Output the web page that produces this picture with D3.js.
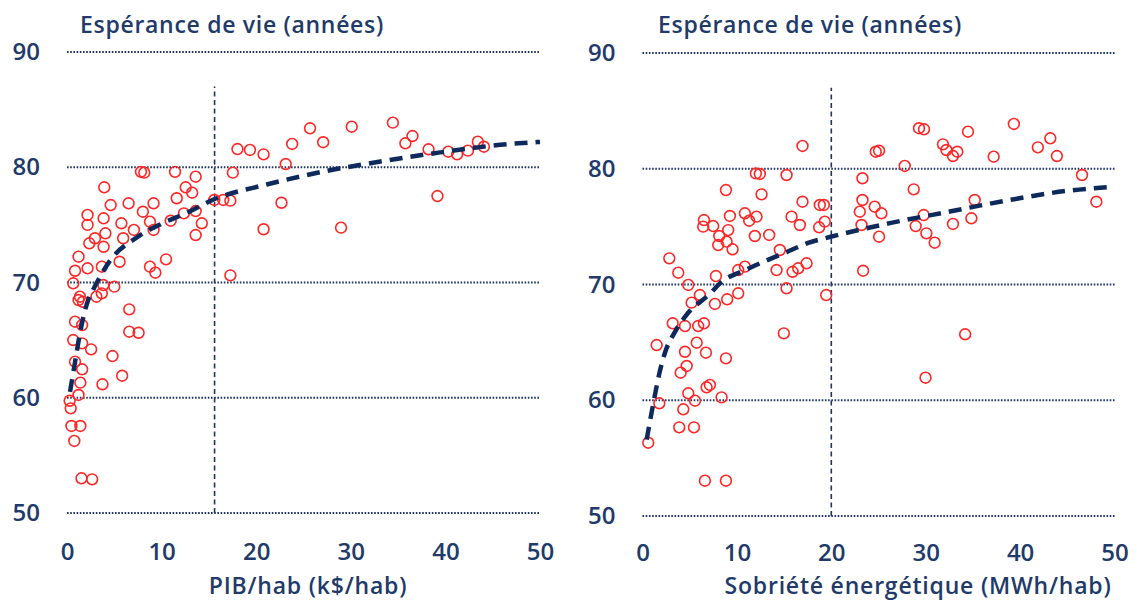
<!DOCTYPE html>
<html lang="fr">
<head>
<meta charset="UTF-8">
<title>Espérance de vie</title>
<script src="https://d3js.org/d3.v7.min.js"></script>
<style>
  body { margin: 0; background: #fff; }
  svg { display: block; font-family: "Open Sans", sans-serif; }
  .lbl { fill: #213a6a; font-weight: 600; }
</style>
</head>
<body>
<svg id="chart" width="1147" height="600"></svg>
<script>
// ticks
const yTicks = [50, 60, 70, 80, 90];
const xTicks = [0, 10, 20, 30, 40, 50];

// left panel : PIB/hab
const gdpX = [25.69, 30.10, 34.45, 36.52, 35.77, 23.80, 27.08, 18.02, 19.34, 20.78, 23.12, 38.22, 40.30, 41.24, 42.38, 43.43, 44.07,
  17.53, 39.16, 22.67, 20.78, 28.97, 17.27, 15.57, 16.51, 17.27, 13.60, 11.42, 12.55, 13.23, 11.60, 13.60, 14.25, 13.60, 12.36,
  10.96, 9.15, 9.15, 8.02, 6.51, 4.62, 3.94, 2.17, 2.17, 3.87, 5.75, 7.07, 5.94, 4.06, 3.87, 2.36, 1.22, 0.85, 2.17, 3.68, 5.56,
  8.77, 9.34, 10.47, 0.66, 3.68, 5.00, 3.11, 1.22, 1.68, 6.58, 0.85, 1.60, 6.58, 7.57, 0.66, 1.60, 2.55, 4.81, 0.85, 1.60, 5.83,
  3.75, 1.41, 1.22, 0.28, 0.39, 0.47, 1.41, 0.77, 1.53, 2.66, 7.82, 8.17, 8.77, 2.96, 3.84, 1.37];
const gdpY = [83.38, 83.52, 83.87, 82.71, 82.08, 82.02, 82.17, 81.58, 81.50, 81.12, 80.28, 81.56, 81.35, 81.12, 81.44, 82.22, 81.78,
  79.53, 77.50, 76.92, 74.62, 74.76, 70.62, 77.16, 77.16, 77.10, 79.18, 79.60, 78.26, 77.79, 77.31, 76.20, 75.14, 74.12, 76.00,
  75.36, 76.87, 74.56, 76.14, 76.87, 76.72, 78.26, 75.86, 75.00, 75.57, 75.14, 74.56, 73.84, 74.27, 73.10, 73.40, 72.24, 71.02,
  71.23, 71.37, 71.80, 71.37, 70.85, 72.01, 69.93, 69.06, 69.64, 68.77, 68.48, 68.33, 67.67, 66.60, 66.31, 65.73, 65.64, 65.01,
  64.72, 64.20, 63.62, 63.13, 62.47, 61.91, 61.17, 61.31, 60.24, 59.74, 59.08, 57.55, 57.55, 56.25, 53.01, 52.92, 79.60, 79.53,
  75.28, 73.84, 69.78, 68.77];
const gdpTrendX = [0.32, 0.85, 1.37, 2.25, 2.78, 4.55, 7.54, 10.0, 12.8, 15.5, 21.1, 28.2, 31.7, 38.7, 46.5, 50];
const gdpTrendY = [60.5, 63.1, 65.6, 68.5, 69.4, 71.9, 74.0, 75.1, 76.1, 77.2, 78.5, 79.8, 80.3, 81.2, 82.0, 82.2];
const gdpRef = 15.6;

// right panel : énergie/hab
const energyX = [16.95, 12.01, 12.43, 15.26, 8.84, 12.61, 16.95, 6.51, 6.43, 7.49, 9.26, 10.85, 11.30, 12.08, 15.79, 16.67, 9.08,
  8.13, 8.02, 8.91, 9.54, 11.90, 13.42, 14.55, 2.84, 3.79, 4.85, 7.78, 10.14, 10.85, 14.20, 15.90, 16.49, 15.26, 6.08, 10.14,
  5.20, 7.67, 8.97, 3.20, 4.50, 5.90, 6.51, 5.74, 4.50, 6.72, 1.50, 8.84, 4.68, 4.04, 14.97, 7.14, 6.79, 8.38, 4.85, 5.56, 1.78,
  4.32, 3.89, 5.45, 0.61, 6.61, 8.84, 29.98, 34.18, 19.46, 29.29, 29.82, 39.34, 34.48, 43.20, 41.88, 43.90, 37.20, 31.83, 32.19,
  33.35, 32.89, 24.71, 25.06, 27.78, 23.30, 28.73, 23.30, 24.60, 25.31, 23.02, 18.78, 19.21, 35.19, 29.79, 19.31, 18.71, 23.20,
  28.94, 32.89, 34.84, 30.07, 30.95, 25.06, 23.37, 17.38, 46.56, 48.08];
const energyY = [81.97, 79.60, 79.55, 79.46, 78.16, 77.79, 77.15, 75.57, 75.00, 75.05, 75.92, 76.15, 75.51, 75.86, 75.86, 75.14, 74.70,
  74.19, 73.41, 73.70, 73.04, 74.19, 74.28, 72.98, 72.26, 71.02, 69.96, 70.73, 71.25, 71.54, 71.25, 71.10, 71.40, 69.67, 69.09,
  69.24, 68.43, 68.32, 68.72, 66.65, 66.41, 66.41, 66.65, 64.97, 64.19, 64.11, 64.77, 63.62, 62.96, 62.38, 65.78, 61.32, 61.12,
  60.25, 60.60, 59.96, 59.74, 59.22, 57.66, 57.66, 56.33, 53.05, 53.05, 61.95, 65.70, 69.09, 83.50, 83.41, 83.87, 83.20, 82.63,
  81.85, 81.10, 81.04, 82.11, 81.62, 81.47, 81.10, 81.47, 81.56, 80.24, 79.18, 78.22, 77.30, 76.72, 76.15, 76.29, 76.87, 76.87,
  77.30, 76.00, 75.43, 74.94, 75.14, 75.05, 75.23, 75.72, 74.42, 73.61, 74.13, 71.19, 71.83, 79.46, 77.15];
const energyTrendX = [0.44, 1.14, 1.78, 2.38, 3.44, 4.68, 7.14, 8.2, 11.03, 15.26, 17.55, 19.84, 26.19, 32.54, 38.89, 45.06, 50];
const energyTrendY = [56.6, 59.7, 62.3, 64.1, 65.9, 67.4, 69.2, 70.1, 71.3, 72.8, 73.6, 74.1, 75.3, 76.3, 77.3, 78.1, 78.45];
const energyRef = 20;

const navy = "#1e3562";
const svg = d3.select("#chart");

const panels = [
  { x0: 67, x1: 540, y0: 513, y1: 52, xs: gdpX, ys: gdpY, tx: gdpTrendX, ty: gdpTrendY, ref: gdpRef, pad: 30,
    xTitle: "PIB/hab (k$/hab)", xTitleX: 308, titleX: 80 },
  { x0: 642.5, x1: 1114.5, y0: 516, y1: 53, xs: energyX, ys: energyY, tx: energyTrendX, ty: energyTrendY, ref: energyRef, pad: 28,
    xTitle: "Sobriété énergétique (MWh/hab)", xTitleX: 918, titleX: 658 }
];

panels.forEach(p => {
  const x = d3.scaleLinear().domain([0, 50]).range([p.x0, p.x1]);
  const y = d3.scaleLinear().domain([50, 90]).range([p.y0, p.y1]);
  const g = svg.append("g");

  // dotted grid
  g.selectAll(".grid").data(yTicks).join("line")
    .attr("x1", x(0)).attr("x2", x(50))
    .attr("y1", d => y(d)).attr("y2", d => y(d))
    .attr("stroke", navy).attr("stroke-width", 2).attr("stroke-dasharray", "1.6,1.6");

  // vertical reference line
  g.append("line")
    .attr("x1", x(p.ref)).attr("x2", x(p.ref))
    .attr("y1", y(50)).attr("y2", y(87))
    .attr("stroke", navy).attr("stroke-width", 1.6).attr("stroke-dasharray", "5,3.5");

  // axes
  const ya = g.append("g").attr("transform", `translate(${x(0)},0)`)
    .call(d3.axisLeft(y).tickValues(yTicks).tickSize(0).tickPadding(27));
  const xa = g.append("g").attr("transform", `translate(0,${y(50)})`)
    .call(d3.axisBottom(x).tickValues(xTicks).tickSize(0).tickPadding(p.pad));
  [ya, xa].forEach(a => {
    a.select(".domain").remove();
    a.selectAll("text").attr("class", "lbl").style("font-size", "24px").style("font-family", "Open Sans, sans-serif");
  });

  // points
  const pts = d3.range(p.xs.length).map(i => [p.xs[i], p.ys[i]]);
  g.selectAll(".pt").data(pts).join("circle")
    .attr("cx", d => x(d[0])).attr("cy", d => y(d[1])).attr("r", 5.4)
    .attr("fill", "none").attr("stroke", "#ff2626").attr("stroke-width", 1.6);

  // trend curve
  const tr = d3.range(p.tx.length).map(i => [p.tx[i], p.ty[i]]);
  g.append("path").datum(tr)
    .attr("d", d3.line().x(d => x(d[0])).y(d => y(d[1])).curve(d3.curveMonotoneX))
    .attr("fill", "none").attr("stroke", "#0e2a5c").attr("stroke-width", 4.5)
    .attr("stroke-dasharray", "13,8");

  // titles
  g.append("text").attr("class", "lbl").attr("x", p.titleX).attr("y", 33)
    .style("font-size", "23px").style("letter-spacing", "0.7px").text("Espérance de vie (années)");
  g.append("text").attr("class", "lbl").attr("x", p.xTitleX).attr("y", 593.5)
    .attr("text-anchor", "middle").style("font-size", "23px").style("letter-spacing", "0.8px").text(p.xTitle);
});
</script>
</body>
</html>
